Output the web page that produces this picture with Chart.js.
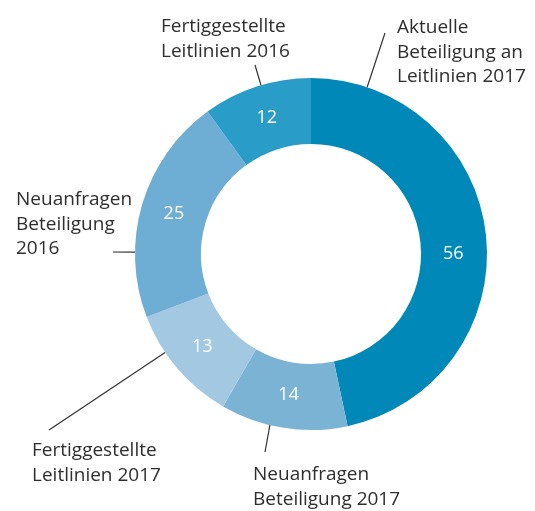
<!DOCTYPE html>
<html>
<head>
<meta charset="utf-8">
<script src="https://cdn.jsdelivr.net/npm/chart.js@4"></script>
<style>
  html, body { margin: 0; padding: 0; background: #fff; }
  #wrap { width: 535px; height: 511px; }
</style>
</head>
<body>
<div id="wrap"><canvas id="myChart" width="535" height="511"></canvas></div>
<script>
// data
var labels = [
  ['Aktuelle', 'Beteiligung an', 'Leitlinien 2017'],
  ['Neuanfragen', 'Beteiligung 2017'],
  ['Fertiggestellte', 'Leitlinien 2017'],
  ['Neuanfragen', 'Beteiligung', '2016'],
  ['Fertiggestellte', 'Leitlinien 2016']
];
var values = [56, 14, 13, 25, 12];
var colors = ['#0088b9', '#7bb3d5', '#a3c8e2', '#6eaed4', '#2a9cc8'];

// where each outside label sits and where its leader line starts on the ring
var calloutAngle = [18.6, 193.5, 236, 270.6, 343.5];
var calloutEnd = [[385, 33], [265, 452], [49, 430], [113, 252], [255, 65]];
var calloutText = [[397, 28], [253, 475], [32, 451], [16, 200], [161, 27]];

var calloutPlugin = {
  id: 'callouts',
  afterDatasetsDraw: function (chart) {
    var c = chart.ctx;
    var meta = chart.getDatasetMeta(0);
    c.save();
    meta.data.forEach(function (arc, i) {
      var p = arc.getProps(['x', 'y', 'outerRadius', 'innerRadius', 'startAngle', 'endAngle'], true);
      // value inside ring
      var mid = (p.startAngle + p.endAngle) / 2;
      var rm = (p.innerRadius + p.outerRadius) / 2;
      c.fillStyle = '#ffffff';
      c.font = '18px "Open Sans"';
      c.textAlign = 'center';
      c.textBaseline = 'middle';
      var vx = p.x + Math.cos(mid) * rm;
      var vy = p.y + Math.sin(mid) * rm;
      if (i === 0) vy += 15;
      c.fillText(values[i], vx, vy);

      // leader line
      var a = (calloutAngle[i] - 90) * Math.PI / 180;
      c.strokeStyle = '#333333';
      c.lineWidth = 1.2;
      c.beginPath();
      c.moveTo(p.x + Math.cos(a) * p.outerRadius, p.y + Math.sin(a) * p.outerRadius);
      c.lineTo(calloutEnd[i][0], calloutEnd[i][1]);
      c.stroke();

      // outside label
      c.fillStyle = '#2e2e2e';
      c.font = '19px "Open Sans"';
      c.textAlign = 'left';
      labels[i].forEach(function (line, k) {
        c.fillText(line, calloutText[i][0], calloutText[i][1] + k * 24.5);
      });
    });
    c.restore();
  }
};

var ctx = document.getElementById('myChart').getContext('2d');
var myChart = new Chart(ctx, {
  type: 'doughnut',
  data: {
    labels: labels.map(function (l) { return l.join(' '); }),
    datasets: [{
      data: values,
      backgroundColor: colors,
      borderWidth: 0
    }]
  },
  options: {
    responsive: false,
    animation: false,
    cutout: '62.5%',
    layout: {
      padding: { left: 135, right: 48, top: 78, bottom: 81 }
    },
    plugins: {
      legend: { display: false },
      tooltip: { enabled: false }
    }
  },
  plugins: [calloutPlugin]
});
</script>
</body>
</html>
